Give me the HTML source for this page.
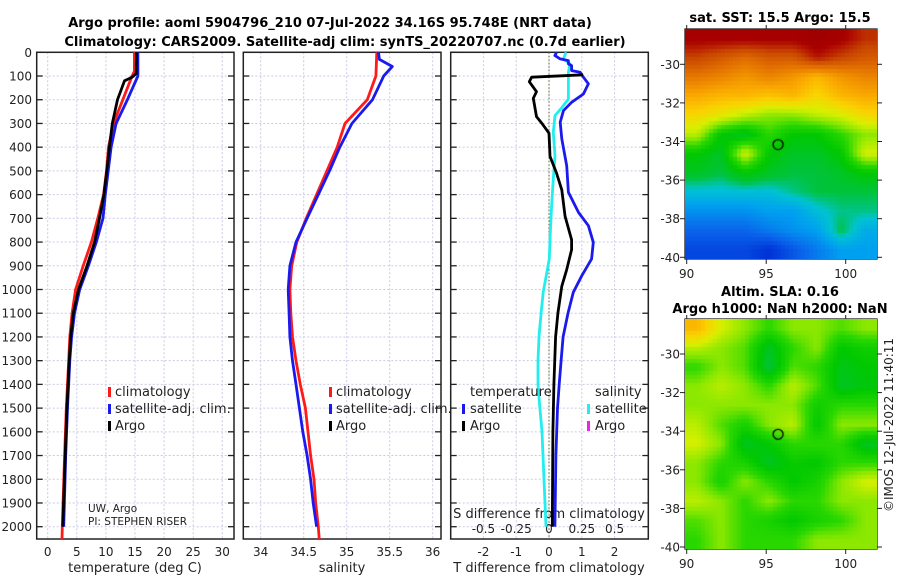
<!DOCTYPE html>
<html><head><meta charset="utf-8">
<style>
html,body{margin:0;padding:0;background:#fff;}
body{width:900px;height:580px;position:relative;overflow:hidden;font-family:"DejaVu Sans","Liberation Sans",sans-serif;}
svg text{font-family:"DejaVu Sans","Liberation Sans",sans-serif;}
canvas{position:absolute;}
</style></head>
<body>
<svg id="chart" width="900" height="580" style="position:absolute;left:0;top:0">
  <text x="330" y="27" text-anchor="middle" font-size="13" font-weight="bold">Argo profile: aoml 5904796_210 07-Jul-2022 34.16S 95.748E (NRT data)</text>
  <text x="345" y="46" text-anchor="middle" font-size="13" font-weight="bold">Climatology: CARS2009. Satellite-adj clim: synTS_20220707.nc (0.7d earlier)</text>
  <text x="780" y="22" text-anchor="middle" font-size="13" font-weight="bold">sat. SST: 15.5 Argo: 15.5</text>
  <text x="780" y="296" text-anchor="middle" font-size="13" font-weight="bold">Altim. SLA: 0.16</text>
  <text x="780" y="313" text-anchor="middle" font-size="13" font-weight="bold">Argo h1000: NaN h2000: NaN</text>
  <text transform="translate(893,425) rotate(-90)" text-anchor="middle" font-size="12" fill="#222">©IMOS 12-Jul-2022 11:40:11</text>
</svg>
<canvas id="sst" width="192" height="230" style="left:685px;top:29px"></canvas>
<canvas id="sla" width="192" height="230" style="left:685px;top:319px"></canvas>
<script>
// ---------- data ----------
const depthTicks = [0,100,200,300,400,500,600,700,800,900,1000,1100,1200,1300,1400,1500,1600,1700,1800,1900,2000];
const tempTicks = [0,5,10,15,20,25,30];
const salTicks = [34,34.5,35,35.5,36];
const diffTTicks = [-2,-1,0,1,2];
const diffSTicks = [-0.5,-0.25,0,0.25,0.5];
const diffSTickLabels = ["-0.5","-0.25","0","0.25","0.5"];

const tDepthClim = [0,80,100,200,300,400,500,600,700,800,900,1000,1100,1200,1300,1500,1700,2000,2052];
const tClim = [14.9,14.9,14.5,12.9,11.3,10.45,10.1,9.6,8.6,7.5,6.1,4.8,4.2,3.8,3.6,3.2,2.9,2.5,2.45];
const tDepthSat = [0,100,200,300,400,500,600,700,800,900,1000,1100,1200,1300,1500,1700,2000];
const tSat = [15.5,15.5,13.7,11.75,10.9,10.4,9.9,9.5,8.35,7.0,5.5,4.6,4.1,3.8,3.4,3.1,2.75];
const tDepthArgo = [0,90,105,120,200,300,400,500,600,700,800,900,1000,1100,1200,1300,1500,1700,2000];
const tArgo = [15.25,15.2,14.5,13.2,12.0,11.1,10.6,10.15,9.65,8.9,8.05,6.75,5.3,4.4,3.95,3.7,3.3,3.0,2.6];

const sDepthClim = [0,100,200,300,400,500,600,700,800,900,1000,1100,1200,1300,1400,1500,1600,1700,1800,1900,2000,2052];
const sClim = [35.35,35.34,35.24,34.98,34.89,34.77,34.65,34.53,34.42,34.36,34.34,34.35,34.37,34.41,34.46,34.52,34.55,34.58,34.62,34.64,34.67,34.68];
const sDepthSat = [0,30,60,100,200,300,400,500,600,700,800,900,1000,1100,1200,1300,1400,1500,1600,1700,1800,1900,2000];
const sSat = [35.37,35.38,35.53,35.43,35.3,35.06,34.92,34.8,34.67,34.54,34.41,34.34,34.32,34.33,34.34,34.37,34.41,34.45,34.49,34.54,34.58,34.61,34.65];

const dDepthArgoT = [95,105,124,166,194,271,299,341,439,509,580,692,790,832,916,986,1100,1200,1400,1600,2000];
const dArgoT = [1.04,-0.53,-0.6,-0.38,-0.48,-0.38,-0.22,0.0,0.03,0.23,0.39,0.49,0.69,0.69,0.54,0.39,0.27,0.2,0.15,0.12,0.1];
const dDepthSatT = [0,14,28,35,49,56,77,84,105,133,176,211,246,295,365,478,590,675,731,801,871,942,1012,1100,1200,1300,1400,1500,1700,2000];
const dSatT = [0.23,0.18,0.34,0.59,0.59,0.69,0.69,0.95,1.05,1.2,1.05,0.69,0.44,0.34,0.39,0.54,0.59,0.9,1.2,1.35,1.3,1.0,0.74,0.58,0.43,0.37,0.31,0.26,0.21,0.18];
const dDepthSatS = [0,28,49,84,155,197,232,267,337,436,534,647,787,871,1012,1100,1200,1300,1400,1500,1600,1800,2000];
const dSatS = [0.13,0.11,0.16,0.148,0.148,0.148,0.1,0.046,0.033,0.046,0.033,0.02,0.008,0.002,-0.044,-0.06,-0.076,-0.084,-0.084,-0.069,-0.053,-0.038,-0.023];

const lonTicks = [90,95,100];
const latTicks = [-30,-32,-34,-36,-38,-40];
const argoLon = 95.748, argoLat = -34.16;
const sstGrid = [
 [0.95,0.95,0.95,0.95,0.95,0.97,0.95,0.9],
 [0.88,0.85,0.82,0.85,0.85,0.92,0.88,0.85],
 [0.8,0.78,0.75,0.78,0.75,0.7,0.75,0.78],
 [0.72,0.7,0.7,0.68,0.7,0.65,0.7,0.72],
 [0.65,0.62,0.58,0.55,0.55,0.58,0.6,0.65],
 [0.58,0.45,0.42,0.5,0.45,0.45,0.5,0.55],
 [0.45,0.42,0.6,0.45,0.42,0.42,0.45,0.6],
 [0.42,0.4,0.45,0.42,0.4,0.4,0.42,0.45],
 [0.35,0.35,0.35,0.35,0.38,0.4,0.4,0.4],
 [0.28,0.28,0.28,0.3,0.3,0.35,0.38,0.38],
 [0.22,0.22,0.22,0.25,0.28,0.3,0.4,0.32],
 [0.18,0.18,0.18,0.15,0.2,0.25,0.3,0.3]];
const slaGrid = [
 [0.7,0.6,0.55,0.5,0.55,0.55,0.52,0.55],
 [0.58,0.55,0.52,0.42,0.5,0.55,0.45,0.47],
 [0.5,0.55,0.52,0.4,0.52,0.5,0.43,0.45],
 [0.55,0.58,0.55,0.5,0.58,0.52,0.42,0.44],
 [0.55,0.55,0.55,0.55,0.55,0.47,0.5,0.5],
 [0.58,0.52,0.48,0.55,0.58,0.45,0.55,0.55],
 [0.6,0.55,0.42,0.45,0.5,0.5,0.5,0.42],
 [0.55,0.5,0.48,0.42,0.46,0.45,0.5,0.5],
 [0.55,0.48,0.55,0.5,0.45,0.48,0.55,0.6],
 [0.58,0.55,0.5,0.55,0.5,0.5,0.55,0.55],
 [0.52,0.55,0.5,0.48,0.45,0.48,0.5,0.55],
 [0.5,0.55,0.5,0.5,0.5,0.55,0.55,0.55]];

// ---------- axes ----------
const NS = "http://www.w3.org/2000/svg";
const svg = document.getElementById('chart');
const TOP = 52.3, BOT = 539, DSCALE = (526.7-52.3)/2000;
const yD = d => TOP + d*DSCALE;
const xT = t => 47.7 + t*5.82;
const xS = s => 260.7 + (s-34)*86;
const xDT = t => 549 + t*32.8;
const xDS = s => 549 + s*131.2;
const panels = [{x0:36.7,x1:234},{x0:243.3,x1:441},{x0:450.7,x1:648.3}];

function el(tag, attrs, parent){const e=document.createElementNS(NS,tag);for(const k in attrs)e.setAttribute(k,attrs[k]);(parent||svg).appendChild(e);return e;}

function drawPanel(i, xf, ticks){
  const p = panels[i];
  const g = el('g',{});
  
  
  depthTicks.forEach(d=>{
    const l = el('line',{x1:p.x0,x2:p.x1,y1:yD(d),y2:yD(d),stroke:'#c9cbe6','stroke-width':1,'stroke-dasharray':'2,2'},g);
    
    
    el('line',{x1:p.x0,x2:p.x0+6,y1:yD(d),y2:yD(d),stroke:'#222','stroke-width':1.3},g);
    el('line',{x1:p.x1-6,x2:p.x1,y1:yD(d),y2:yD(d),stroke:'#222','stroke-width':1.3},g);
  });
  ticks.forEach(t=>{
    const x = xf(t);
    const l = el('line',{x1:x,x2:x,y1:TOP,y2:BOT,stroke:'#c9cbe6','stroke-width':1,'stroke-dasharray':'2,2'},g);
    
    
  });
  const r = el('rect',{x:p.x0,y:TOP,width:p.x1-p.x0,height:BOT-TOP,fill:'none',stroke:'#222','stroke-width':1.5},g);
  
  
  return g;
}
function line(xs, ds, xf, color, name, w){
  const pts = xs.map((v,k)=>xf(v).toFixed(1)+','+yD(ds[k]).toFixed(1)).join(' ');
  const pl = el('polyline',{points:pts,fill:'none',stroke:color,'stroke-width':w||2.8,'stroke-linejoin':'round'});
  
  
}
function text(x,y,s,opts,name){
  const t = el('text',Object.assign({x:x,y:y,'font-size':12,fill:'#222'},opts||{}));
  t.textContent = s;
  
  
  return t;
}
function legendBar(x,y,color,name){
  const r = el('rect',{x:x,y:y-10,width:3,height:10,fill:color});
  
  
}

drawPanel(0,xT,tempTicks);
drawPanel(1,xS,salTicks);
drawPanel(2,xDT,diffTTicks);
const zl = el('line',{x1:xDT(0),x2:xDT(0),y1:TOP,y2:BOT,stroke:'#556b2f','stroke-width':1,'stroke-dasharray':'1.5,2'});



depthTicks.forEach(d=>text(32,yD(d)+4.5,String(d),{'text-anchor':'end'},'depth-tick-label'));
tempTicks.forEach(t=>text(xT(t),556,String(t),{'text-anchor':'middle'},'temp-tick-label'));
salTicks.forEach(t=>text(xS(t),556,String(t),{'text-anchor':'middle'},'salinity-tick-label'));
diffTTicks.forEach(t=>text(xDT(t),556,String(t),{'text-anchor':'middle'},'tdiff-tick-label'));
diffSTicks.forEach((t,k)=>text(xDS(t),533,diffSTickLabels[k],{'text-anchor':'middle'},'sdiff-tick-label'));
text(135,572,'temperature (deg C)',{'text-anchor':'middle','font-size':13},'temp-axis-title');
text(342,572,'salinity',{'text-anchor':'middle','font-size':13},'salinity-axis-title');
text(549,572,'T difference from climatology',{'text-anchor':'middle','font-size':13},'tdiff-axis-title');
text(549,518,'S difference from climatology',{'text-anchor':'middle','font-size':13},'sdiff-axis-title');

line(tClim,tDepthClim,xT,'#ff1a1a','temp-climatology-line');
line(tSat,tDepthSat,xT,'#1a1aee','temp-satellite-line');
line(tArgo,tDepthArgo,xT,'#000','temp-argo-line');
line(sClim,sDepthClim,xS,'#ff1a1a','salinity-climatology-line');
line(sSat,sDepthSat,xS,'#1a1aee','salinity-satellite-line');
line(dSatS,dDepthSatS,xDS,'#22eeee','sdiff-satellite-line');
line(dSatT,dDepthSatT,xDT,'#1a1aee','tdiff-satellite-line');
line(dArgoT,dDepthArgoT,xDT,'#000','tdiff-argo-line');

[[109,0],[330,1]].forEach(([lx,pi])=>{
  legendBar(lx-1,397,'#ff1a1a','legend-climatology-marker');
  text(lx+6,396,'climatology',{'font-size':13},'legend-climatology');
  legendBar(lx-1,414,'#1a1aee','legend-satellite-marker');
  text(lx+6,413,'satellite-adj. clim.',{'font-size':13},'legend-satellite');
  legendBar(lx-1,431,'#000','legend-argo-marker');
  text(lx+6,430,'Argo',{'font-size':13},'legend-argo');
});
text(470,396,'temperature',{'font-size':13},'legend-temperature-header');
legendBar(462,414,'#1a1aee','legend-tsat-marker');
text(470,413,'satellite',{'font-size':13},'legend-tsat');
legendBar(462,431,'#000','legend-targo-marker');
text(470,430,'Argo',{'font-size':13},'legend-targo');
text(595,396,'salinity',{'font-size':13},'legend-salinity-header');
legendBar(587,414,'#22eeee','legend-ssat-marker');
text(595,413,'satellite',{'font-size':13},'legend-ssat');
legendBar(587,431,'#ee22ee','legend-sargo-marker');
text(595,430,'Argo',{'font-size':13},'legend-sargo');
text(88,512,'UW, Argo',{'font-size':10.5},'data-source');
text(88,525,'PI: STEPHEN RISER',{'font-size':10.5},'pi-name');

// ---------- maps ----------
const stops=[[0,[0,0,170]],[0.15,[0,50,215]],[0.22,[10,100,235]],[0.3,[0,160,240]],[0.36,[0,195,210]],[0.4,[0,195,60]],[0.45,[0,200,0]],[0.5,[40,215,0]],[0.55,[140,232,0]],[0.6,[215,240,0]],[0.66,[250,210,0]],[0.72,[250,170,0]],[0.8,[230,120,0]],[0.88,[200,70,0]],[0.94,[170,0,0]],[1,[150,0,0]]];
function cmap(v){for(let i=1;i<stops.length;i++){if(v<=stops[i][0]){const a=stops[i-1],b=stops[i];const f=(v-a[0])/(b[0]-a[0]);return a[1].map((c,k)=>Math.round(c+(b[1][k]-c)*f));}}return stops[stops.length-1][1];}
function sample(grid,gx,gy){const R=grid.length,C=grid[0].length;gx=Math.max(0,Math.min(C-1,gx));gy=Math.max(0,Math.min(R-1,gy));const x0=Math.floor(gx),y0=Math.floor(gy),x1=Math.min(C-1,x0+1),y1=Math.min(R-1,y0+1);const fx=gx-x0,fy=gy-y0;return grid[y0][x0]*(1-fx)*(1-fy)+grid[y0][x1]*fx*(1-fy)+grid[y1][x0]*(1-fx)*fy+grid[y1][x1]*fx*fy;}
function drawMap(id,grid,top,latm30){
  const c=document.getElementById(id),ctx=c.getContext('2d');
  const W=192,H=230,cell=4;
  for(let y=0;y<H;y+=cell)for(let x=0;x<W;x+=cell){
    const v=sample(grid,(x+2)/W*8-0.5,(y+2)/H*12-0.5);
    const col=cmap(v);ctx.fillStyle='rgb('+col.join(',')+')';ctx.fillRect(x,y,cell,cell);
  }
  const xL=lon=>686.7+(lon-90)*15.9-685;
  const yL=lat=>latm30+(-30-lat)*19.3-top;
  ctx.strokeStyle='#000';ctx.lineWidth=1.3;ctx.beginPath();ctx.arc(xL(argoLon),yL(argoLat),5,0,Math.PI*2);ctx.stroke();
  const f=el('rect',{x:685,y:top,width:192,height:230,fill:'none',stroke:'#222','stroke-width':1.3});
  
  
  lonTicks.forEach(l=>{const x=xL(l)+685;el('line',{x1:x,x2:x,y1:top+230,y2:top+235,stroke:'#222'});el('line',{x1:x,x2:x,y1:top,y2:top-4,stroke:'#222'});text(x,top+249,String(l),{'text-anchor':'middle'},'lon-tick-label');});
  latTicks.forEach(l=>{const y=yL(l)+top;el('line',{x1:680,x2:685,y1:y,y2:y,stroke:'#222'});el('line',{x1:877,x2:882,y1:y,y2:y,stroke:'#222'});text(680,y+4.5,String(l),{'text-anchor':'end'},'lat-tick-label');});
}
drawMap('sst',sstGrid,29,64.3);
drawMap('sla',slaGrid,319,354);
</script>
</body></html>
